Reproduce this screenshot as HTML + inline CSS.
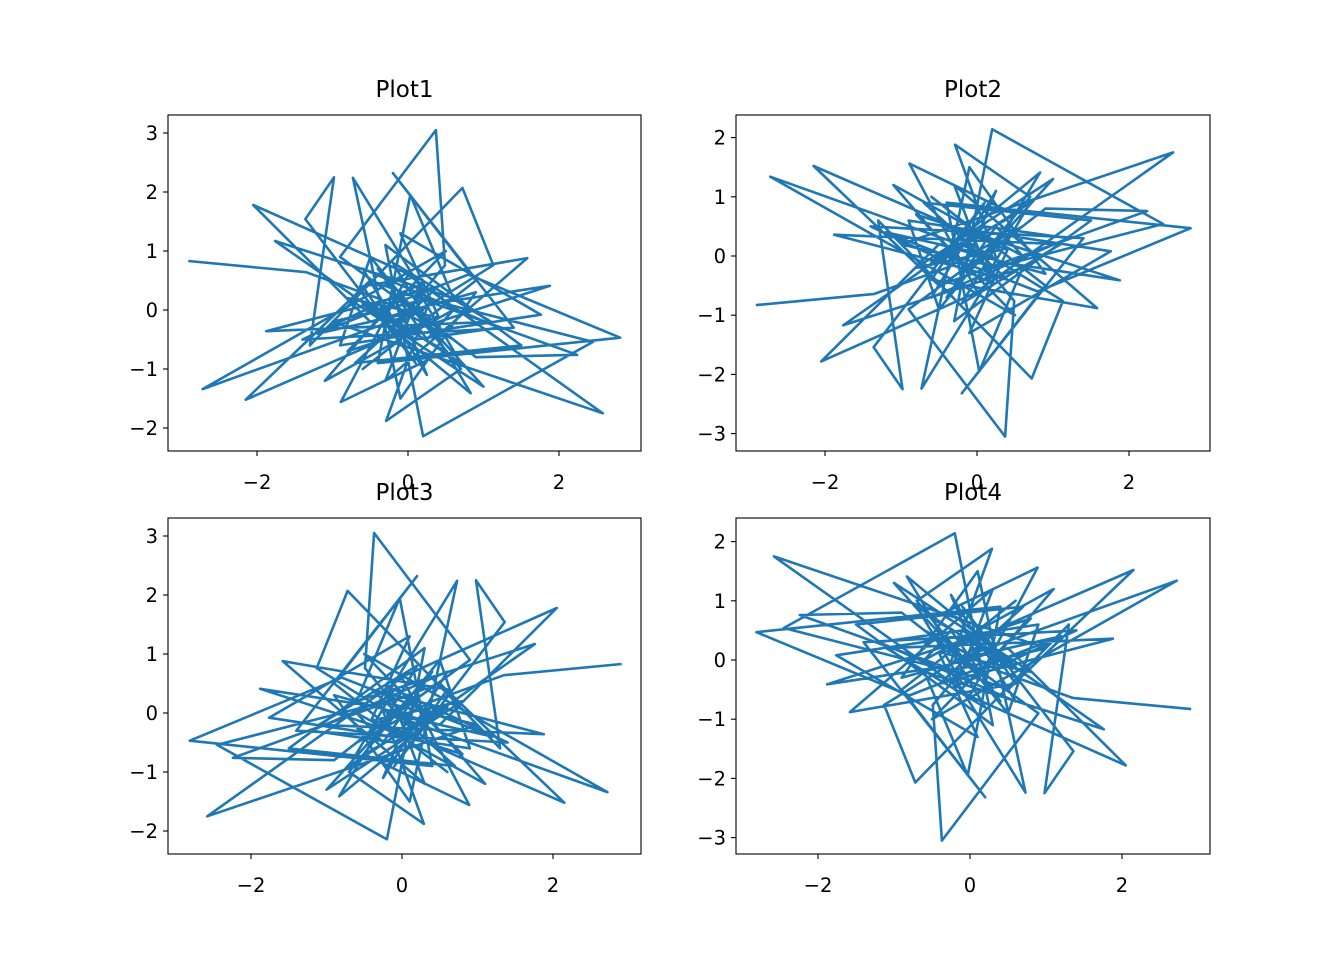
<!DOCTYPE html>
<html><head><meta charset="utf-8"><style>
html,body{margin:0;padding:0;background:#fff;}
svg text{font-family:"DejaVu Sans","Liberation Sans",sans-serif;fill:#000;}
</style></head><body>
<svg id="fig" width="1344" height="960" viewBox="0 0 1344 960" xmlns="http://www.w3.org/2000/svg"></svg>
<script>
// base random-walk data (Plot1); other plots are reflections of it
const xs = [-2.91,-1.35,-0.4,0.6,-0.9,0.37,0.49,-0.2,1.13,0.72,-1.3,-0.98,-1.36,0.1,-0.6,1.58,-0.3,0.2,-2.05,-0.5,0.9,-0.1,-0.73,0.3,1.88,-0.8,0.5,-2.72,0.2,-1.2,0.8,2.81,-0.4,0.03,0.6,-1.76,0.1,1.2,-0.6,0.25,-0.2,0.9,2.24,-0.5,-2.15,0.4,-0.1,1.76,-0.9,-0.5,0.7,-0.29,0.3,-1.0,2.58,0.0,-0.89,0.5,-0.6,0.83,-0.2,1.1,-1.88,0.4,-0.7,1.5,-0.3,0.2,2.45,-0.1,-1.1,0.6,0.25,-0.4,1.0,-0.8,0.3,-0.6,0.9,-0.2,1.4,-1.4,0.1,0.7,-0.5];
const ys = [0.83,0.64,0.2,-0.5,0.9,3.05,0.76,-0.3,0.76,2.07,-0.6,2.25,1.54,-0.9,0.4,0.88,-1.2,0.5,1.78,-0.2,0.3,-1.5,2.24,0.1,0.41,-0.7,1.0,-1.34,0.0,-0.4,0.6,-0.47,-0.9,1.95,0.2,1.17,-0.5,-0.3,0.7,-1.1,0.3,-0.8,-0.76,0.5,-1.52,-0.1,1.3,-0.08,-0.6,0.9,-1.0,-1.88,0.2,-0.2,-1.75,0.6,-1.56,-0.7,0.1,-1.41,0.8,-0.2,-0.36,0.4,-0.9,-0.6,1.1,-2.14,-0.54,0.3,-1.2,0.0,-0.5,0.7,-1.3,0.2,-0.1,-1.0,0.5,2.32,-0.3,-0.5,0.4,-0.9,0.1];
const panels = [
 {title:'Plot1', sx:1, sy:1, L:168,T:115,R:641,B:451, x0:408,kx:75.5, y0:310,ky:59, xt:[-2,0,2], yt:[-2,-1,0,1,2,3]},
 {title:'Plot2', sx:1, sy:-1, L:736,T:115,R:1210,B:451, x0:977,kx:76, y0:256,ky:59.2, xt:[-2,0,2], yt:[-3,-2,-1,0,1,2]},
 {title:'Plot3', sx:-1, sy:1, L:168,T:518,R:641,B:854, x0:402,kx:75.5, y0:713,ky:59, xt:[-2,0,2], yt:[-2,-1,0,1,2,3]},
 {title:'Plot4', sx:-1, sy:-1, L:736,T:518,R:1210,B:854, x0:970,kx:76, y0:660,ky:59.2, xt:[-2,0,2], yt:[-3,-2,-1,0,1,2]}
];
const NS='http://www.w3.org/2000/svg';
const svg=document.getElementById('fig');
function mk(t,a,p){const e=document.createElementNS(NS,t);for(const k in a)e.setAttribute(k,a[k]);(p||svg).appendChild(e);return e;}
const fmt=v=>v<0?'\u2212'+(-v):''+v;
panels.forEach((p,i)=>{
  const g=mk('g',{});
  
  
  const X=v=>p.x0+v*p.kx, Y=v=>p.y0-v*p.ky;
  const cp=mk('clipPath',{id:'c'+i},g);
  mk('rect',{x:p.L,y:p.T,width:p.R-p.L,height:p.B-p.T},cp);
  const pts=xs.map((x,j)=>X(p.sx*x).toFixed(1)+','+Y(p.sy*ys[j]).toFixed(1)).join(' ');
  const line=mk('polyline',{points:pts,fill:'none',stroke:'#1f77b4','stroke-width':2.6,'stroke-linejoin':'round','clip-path':'url(#c'+i+')'},g);
  
  
  const fr=mk('rect',{x:p.L,y:p.T,width:p.R-p.L,height:p.B-p.T,fill:'none',stroke:'#000','stroke-width':1.1},g);
  
  
  p.xt.forEach(v=>{const x=X(v);mk('line',{x1:x,x2:x,y1:p.B,y2:p.B+5,stroke:'#000','stroke-width':1.1},g);
    const t=mk('text',{x:x,y:p.B+38,'text-anchor':'middle','font-size':'19.5'},g);t.textContent=fmt(v);
    
    });
  p.yt.forEach(v=>{const y=Y(v);mk('line',{x1:p.L-5,x2:p.L,y1:y,y2:y,stroke:'#000','stroke-width':1.1},g);
    const t=mk('text',{x:p.L-10,y:y+7,'text-anchor':'end','font-size':'19.5'},g);t.textContent=fmt(v);
    
    });
  const tt=mk('text',{x:(p.L+p.R)/2,y:p.T-18,'text-anchor':'middle','font-size':'23'},g);tt.textContent=p.title;
  
  
});
</script>
</body></html>
